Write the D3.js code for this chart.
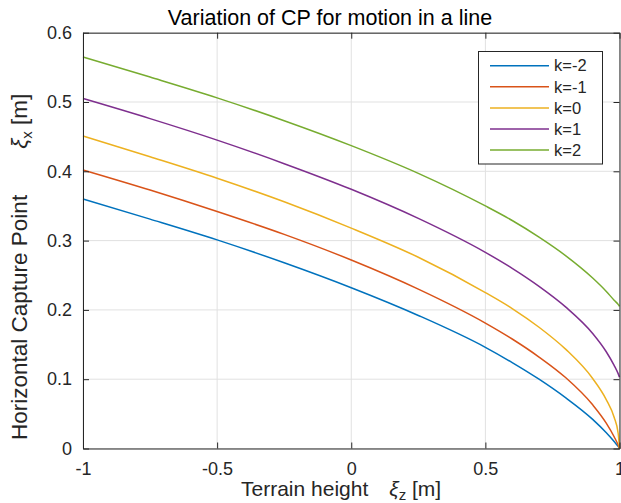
<!DOCTYPE html>
<html>
<head>
<meta charset="utf-8">
<script src="https://cdn.jsdelivr.net/npm/d3@7"></script>
<style>
  body { margin: 0; background: #fff; }
  text { font-family: "Liberation Sans", Arial, Helvetica, sans-serif; fill: #262626; }
</style>
</head>
<body>
<div id="cp_vis"></div>
<script>

// terrain height samples (xi_z) and the CP for each k
var heights = [-1, -0.75, -0.5, -0.25, 0, 0.25, 0.5, 0.6, 0.7, 0.8, 0.9, 0.95, 0.98, 0.995, 1];
var cpKm2 = [0.360, 0.331, 0.301, 0.268, 0.232, 0.192, 0.146, 0.124, 0.100, 0.073, 0.042, 0.023, 0.010, 0.003, 0];
var cpKm1 = [0.402, 0.373, 0.342, 0.309, 0.272, 0.230, 0.181, 0.158, 0.132, 0.102, 0.063, 0.037, 0.017, 0.005, 0];
var cpK0  = [0.451, 0.421, 0.390, 0.356, 0.318, 0.276, 0.225, 0.202, 0.175, 0.143, 0.101, 0.071, 0.045, 0.022, 0];
var cpK1  = [0.505, 0.476, 0.445, 0.411, 0.374, 0.332, 0.283, 0.260, 0.234, 0.204, 0.166, 0.140, 0.120, 0.108, 0.103];
var cpK2  = [0.565, 0.536, 0.506, 0.473, 0.437, 0.397, 0.350, 0.329, 0.305, 0.278, 0.246, 0.227, 0.214, 0.208, 0.205];

var seriesNames = ["k=-2", "k=-1", "k=0", "k=1", "k=2"];
var seriesValues = [cpKm2, cpKm1, cpK0, cpK1, cpK2];
var colors = ["#0072BD", "#D95319", "#EDB120", "#7E2F8E", "#77AC30"];

var xTicks = [-1, -0.5, 0, 0.5, 1];
var yTicks = [0, 0.1, 0.2, 0.3, 0.4, 0.5, 0.6];

function build_cp_vis() {

    var width = 621,
    height = 503,
    left = 83,
    right = 619.5,
    top = 32.7,
    bottom = 448.5;

    var svg = d3.select("#cp_vis")
        .append("svg")
            .attr("width", width)
            .attr("height", height);

    var xScale = d3.scaleLinear()
        .domain([-1, 1])
        .range([left, right]);

    var yScale = d3.scaleLinear()
        .domain([0, 0.6])
        .range([bottom, top]);

    // grid
    var grid = svg.append("g");
    grid.selectAll(".gx")
        .data(xTicks)
        .enter()
        .append("line")
            .attr("x1", function(d){return xScale(d);})
            .attr("x2", function(d){return xScale(d);})
            .attr("y1", top)
            .attr("y2", bottom)
            .attr("stroke", "#e1e1e1")
            .attr("stroke-width", 1);
    grid.selectAll(".gy")
        .data(yTicks)
        .enter()
        .append("line")
            .attr("x1", left)
            .attr("x2", right)
            .attr("y1", function(d){return yScale(d);})
            .attr("y2", function(d){return yScale(d);})
            .attr("stroke", "#e1e1e1")
            .attr("stroke-width", 1);

    // curves
    var line = d3.line()
        .x(function(d){return xScale(d[0]);})
        .y(function(d){return yScale(d[1]);})
        .curve(d3.curveMonotoneX);

    svg.append("g")
        .selectAll("path")
        .data(seriesValues)
        .enter()
        .append("path")
            .attr("d", function(vals){return line(heights.map(function(h, i){return [h, vals[i]];}));})
            .attr("fill", "none")
            .attr("stroke", function(d, i){return colors[i];})
            .attr("stroke-width", 1.5);

    // axes, ticks pointing inward on all four sides
    var fmt = function(d){return String(d);};

    var xAxis = svg.append("g")
        .attr("transform", "translate(0," + bottom + ")")
        .call(d3.axisBottom(xScale).tickValues(xTicks).tickFormat(fmt)
            .tickSizeInner(-6).tickSizeOuter(0).tickPadding(13.5));
    var yAxis = svg.append("g")
        .attr("transform", "translate(" + left + ",0)")
        .call(d3.axisLeft(yScale).tickValues(yTicks).tickFormat(fmt)
            .tickSizeInner(-6).tickSizeOuter(0).tickPadding(11));
    var tAxis = svg.append("g")
        .attr("transform", "translate(0," + top + ")")
        .call(d3.axisTop(xScale).tickValues(xTicks).tickFormat("")
            .tickSizeInner(-6).tickSizeOuter(0));
    var rAxis = svg.append("g")
        .attr("transform", "translate(" + right + ",0)")
        .call(d3.axisRight(yScale).tickValues(yTicks).tickFormat("")
            .tickSizeInner(-6).tickSizeOuter(0));

    [xAxis, yAxis, tAxis, rAxis].forEach(function(a){
        a.selectAll(".domain").attr("stroke", "#262626");
        a.selectAll(".tick line").attr("stroke", "#262626");
        a.selectAll("text").attr("fill", "#262626")
            .style("font-size", "18px")
            .style("font-family", "'Liberation Sans', Arial, sans-serif");
    });

    // title
    svg.append("text")
        .attr("x", 330)
        .attr("y", 25)
        .attr("text-anchor", "middle")
        .style("font-size", "21.5px")
        .style("fill", "#000")
        .text("Variation of CP for motion in a line");

    // x label
    var xl = svg.append("text")
        .attr("x", 241)
        .attr("y", 496)
        .style("font-size", "21px");
    xl.append("tspan").text("Terrain height");
    xl.append("tspan").attr("dx", 21).style("font-style", "italic").text("\u03BE");
    xl.append("tspan").attr("dy", 4).style("font-size", "15px").text("z");
    xl.append("tspan").attr("dy", -4).text(" [m]");

    // y label
    var yl = svg.append("text")
        .attr("transform", "translate(27,440) rotate(-90)")
        .attr("x", 0)
        .attr("y", 0)
        .style("font-size", "22.5px");
    yl.append("tspan").text("Horizontal Capture Point");
    yl.append("tspan").attr("dx", 46).style("font-style", "italic").text("\u03BE");
    yl.append("tspan").attr("dy", 5).style("font-size", "15px").text("x");
    yl.append("tspan").attr("dy", -5).text(" [m]");

    // legend
    var lg = svg.append("g");
    lg.append("rect")
        .attr("x", 478.5)
        .attr("y", 51.5)
        .attr("width", 124)
        .attr("height", 112.5)
        .attr("fill", "#fff")
        .attr("stroke", "#262626")
        .attr("stroke-width", 1);
    var rows = lg.selectAll(".row")
        .data(seriesNames)
        .enter()
        .append("g")
            .attr("transform", function(d, i){return "translate(0," + (65.7 + i * 21.1) + ")";});
    rows.append("line")
        .attr("x1", 490)
        .attr("x2", 549)
        .attr("stroke", function(d, i){return colors[i];})
        .attr("stroke-width", 1.5);
    rows.append("text")
        .attr("x", 554)
        .attr("dy", "0.35em")
        .style("font-size", "16.5px")
        .text(function(d){return d;});
}
build_cp_vis()
</script>
</body>
</html>
